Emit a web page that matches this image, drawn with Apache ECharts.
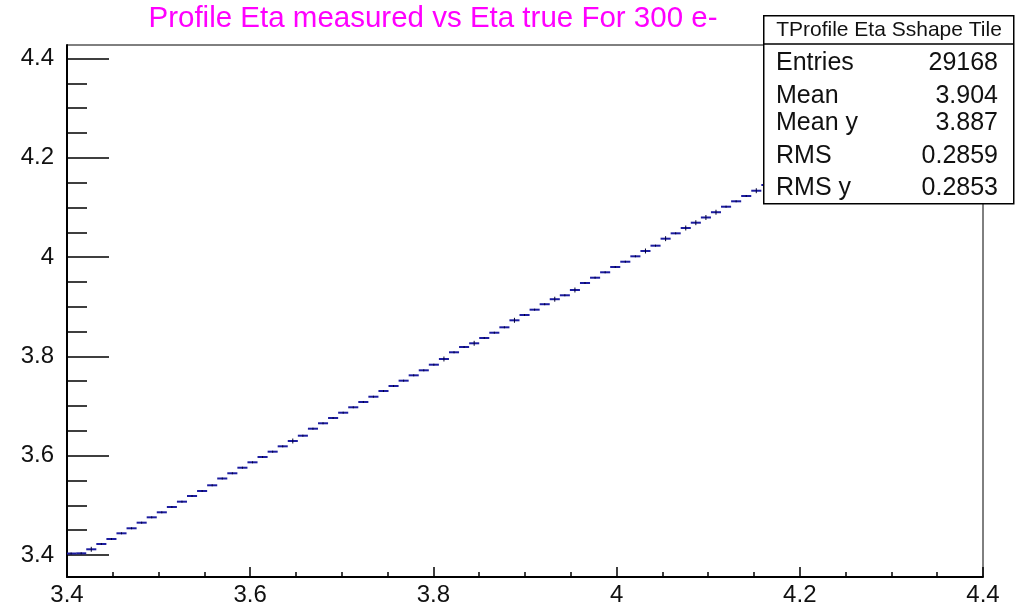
<!DOCTYPE html>
<html>
<head>
<meta charset="utf-8">
<title>Profile Eta measured vs Eta true For 300 e-</title>
<script src="https://cdn.jsdelivr.net/npm/echarts@6/dist/echarts.min.js"></script>
<style>
  html, body { margin: 0; padding: 0; background: #ffffff; }
  #chart { width: 1021px; height: 609px; }
</style>
</head>
<body>
<div id="chart"></div>
<script>
// Profile binning: fixed-width bins starting at binLowEdge
const binLowEdge = 3.399;
const binWidth = 0.011;

// Mean measured eta per bin of true eta
const profileMean = [
  3.4030, 3.4034, 3.4115, 3.4222, 3.4322, 3.4437, 3.4538, 3.4651, 3.4759, 3.4860,
  3.4967, 3.5074, 3.5188, 3.5289, 3.5404, 3.5541, 3.5646, 3.5758, 3.5867, 3.5974,
  3.6081, 3.6189, 3.6296, 3.6403, 3.6544, 3.6653, 3.6759, 3.6866, 3.6975, 3.7082,
  3.7188, 3.7303, 3.7404, 3.7511, 3.7619, 3.7720, 3.7833, 3.7948, 3.8083, 3.8189,
  3.8264, 3.8371, 3.8477, 3.8586, 3.8727, 3.8834, 3.8941, 3.9051, 3.9152, 3.9231,
  3.9337, 3.9478, 3.9585, 3.9694, 3.9801, 3.9907, 4.0016, 4.0123, 4.0230, 4.0371,
  4.0479, 4.0586, 4.0693, 4.0798, 4.0904, 4.1015, 4.1124, 4.1231, 4.1337, 4.1452
];

// Error on the mean per bin
const profileErr = [
  0.002, 0.002, 0.005, 0.002, 0.002, 0.002, 0.002, 0.002, 0.002, 0.002,
  0.002, 0.002, 0.002, 0.002, 0.002, 0.002, 0.002, 0.002, 0.002, 0.002,
  0.002, 0.002, 0.005, 0.002, 0.002, 0.002, 0.002, 0.002, 0.002, 0.002,
  0.002, 0.002, 0.002, 0.002, 0.002, 0.002, 0.002, 0.005, 0.002, 0.002,
  0.005, 0.002, 0.002, 0.002, 0.005, 0.002, 0.002, 0.002, 0.005, 0.002,
  0.005, 0.002, 0.002, 0.002, 0.002, 0.002, 0.002, 0.005, 0.002, 0.005,
  0.002, 0.005, 0.005, 0.005, 0.005, 0.002, 0.002, 0.002, 0.005, 0.002
];

// Axis tick values
const xMajorTicks = [3.4, 3.6, 3.8, 4.0, 4.2, 4.4];
const yMajorTicks = [3.4, 3.6, 3.8, 4.0, 4.2, 4.4];
const yMinorTicks = [3.45, 3.5, 3.55, 3.65, 3.7, 3.75, 3.85, 3.9, 3.95,
                     4.05, 4.1, 4.15, 4.25, 4.3, 4.35];

// Statistics box contents
const statsTitle = 'TProfile Eta Sshape Tile';
const statsLabels = ['Entries', 'Mean', 'Mean y', 'RMS', 'RMS y'];
const statsValues = ['29168', '3.904', '3.887', '0.2859', '0.2853'];

const titleText = 'Profile Eta measured vs Eta true For 300 e-';

const FONT = '"Liberation Sans", Arial, Helvetica, sans-serif';

const seriesData = profileMean.map((m, i) => [
  binLowEdge + (i + 0.5) * binWidth, m, profileErr[i]
]);

const chart = echarts.init(document.getElementById('chart'), null, { renderer: 'canvas' });

const statRowY = [63, 96, 123, 156, 188];
const statsGraphics = [
  {
    type: 'rect', left: 763, top: 15, z: 100,
    shape: { width: 250, height: 188 },
    style: { fill: '#ffffff', stroke: '#000000', lineWidth: 1.5 }
  },
  {
    type: 'line', z: 101,
    shape: { x1: 763, y1: 44, x2: 1013, y2: 44 },
    style: { stroke: '#000000', lineWidth: 1.5 }
  },
  {
    type: 'text', z: 101, x: 889, y: 30,
    style: { text: statsTitle, fill: '#111111', font: '21px ' + FONT,
             align: 'center', verticalAlign: 'middle' }
  }
];
statsLabels.forEach((lab, i) => {
  statsGraphics.push({
    type: 'text', z: 101, x: 776, y: statRowY[i],
    style: { text: lab, fill: '#111111', font: '25px ' + FONT,
             align: 'left', verticalAlign: 'middle' }
  });
  statsGraphics.push({
    type: 'text', z: 101, x: 998, y: statRowY[i],
    style: { text: statsValues[i], fill: '#111111', font: '25px ' + FONT,
             align: 'right', verticalAlign: 'middle' }
  });
});

const option = {
  backgroundColor: '#ffffff',
  animation: false,
  grid: {
    left: 67, top: 45, width: 916, height: 532,
    show: true, borderColor: '#000000', borderWidth: 1, backgroundColor: 'transparent'
  },
  graphic: [
    {
      type: 'text', x: 433, y: 19, z: 50,
      style: { text: titleText, fill: '#ff00ff', font: '29.5px ' + FONT,
               align: 'center', verticalAlign: 'middle' }
    }
  ].concat(statsGraphics),
  xAxis: {
    type: 'value', min: 3.4, max: 4.4, interval: 0.2,
    axisLine: { show: true, onZero: false, lineStyle: { color: '#000000', width: 2 } },
    axisTick: { show: true, inside: true, length: 10, lineStyle: { color: '#000000', width: 1.5 } },
    minorTick: { show: true, splitNumber: 4, length: 5, lineStyle: { color: '#000000', width: 1.5 } },
    splitLine: { show: false },
    axisLabel: { color: '#111111', fontSize: 24, fontFamily: FONT, margin: 6,
                 showMinLabel: true, showMaxLabel: true }
  },
  yAxis: [
    {
      type: 'value', min: 3.3557, max: 4.4272,
      axisLine: { show: true, onZero: false, lineStyle: { color: '#000000', width: 2 } },
      axisTick: { show: true, inside: true, length: 42, customValues: yMajorTicks,
                  lineStyle: { color: '#000000', width: 1.5 } },
      splitLine: { show: false },
      axisLabel: { color: '#111111', fontSize: 24, fontFamily: FONT, margin: 13,
                   padding: [9, 0, 0, 0],
                   customValues: yMajorTicks,
                   formatter: v => String(Math.round(v * 10) / 10) }
    },
    {
      type: 'value', min: 3.3557, max: 4.4272, position: 'left',
      axisLine: { show: false },
      axisTick: { show: true, inside: true, length: 20, customValues: yMinorTicks,
                  lineStyle: { color: '#000000', width: 1.5 } },
      splitLine: { show: false },
      axisLabel: { show: false }
    }
  ],
  series: [
    {
      type: 'custom',
      xAxisIndex: 0, yAxisIndex: 0,
      clip: true,
      data: seriesData,
      renderItem: function (params, api) {
        const xc = api.value(0), m = api.value(1), e = api.value(2);
        const pL = api.coord([xc - binWidth / 2, m]);
        const pR = api.coord([xc + binWidth / 2, m]);
        const pT = api.coord([xc, m + e]);
        const pB = api.coord([xc, m - e]);
        return {
          type: 'group',
          children: [
            { type: 'line', shape: { x1: pL[0], y1: pL[1], x2: pR[0], y2: pR[1] },
              style: { stroke: '#1c1ca0', lineWidth: 2 } },
            { type: 'line', shape: { x1: pT[0], y1: pT[1], x2: pB[0], y2: pB[1] },
              style: { stroke: '#000033', lineWidth: 1 } }
          ]
        };
      }
    }
  ]
};

chart.setOption(option);
</script>
</body>
</html>
